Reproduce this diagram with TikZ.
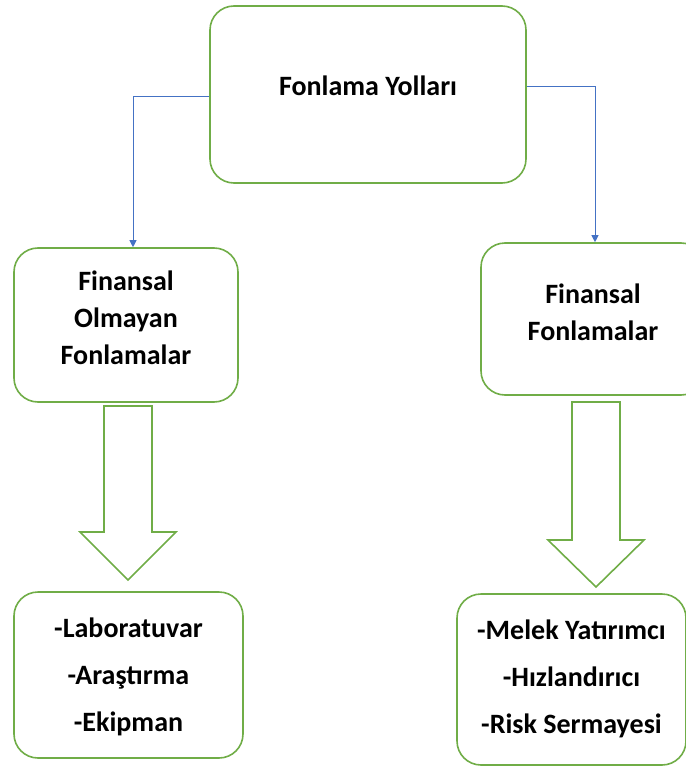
\documentclass[tikz,border=0pt]{standalone}
\usepackage{fontspec}
\setmainfont{Carlito}
\usetikzlibrary{arrows.meta}
\definecolor{yesil}{RGB}{112,173,71}
\definecolor{mavi}{RGB}{68,114,196}
\tikzset{
  kutu/.style={draw=yesil, line width=1.6pt, rounded corners=24pt, fill=white},
  yazi/.style={align=center, inner sep=0pt, font=\bfseries\fontsize{28}{37}\selectfont},
  listeyazi/.style={yazi, font=\bfseries\fontsize{28}{47}\selectfont},
  baglanti/.style={draw=mavi, line width=0.9pt, -{Triangle[width=7pt,length=7pt]}},
  kalinok/.style={draw=yesil, line width=1.6pt, line join=miter}
}
\begin{document}
\begin{tikzpicture}[x=1pt, y=-1pt]

  % Sayfa sınırları
  \useasboundingbox (0,0) rectangle (685,770);

  % Kutular
  \node[kutu, minimum width=316pt, minimum height=177pt] (yollar) at (368,94.5) {};
  \node[kutu, minimum width=224pt, minimum height=154pt] (olmayan) at (126,325) {};
  \node[kutu, minimum width=224pt, minimum height=152pt] (finansal) at (593,319) {};
  \node[kutu, minimum width=229pt, minimum height=166pt] (liste1) at (128.5,675) {};
  \node[kutu, minimum width=229pt, minimum height=171pt] (liste2) at (571.5,679.5) {};

  % Kutu yazıları
  \node[yazi] (yollaryazi) at ([yshift=8.5pt]yollar.center) {Fonlama Yolları};
  \node[yazi] (olmayanyazi) at ([yshift=7pt]olmayan.center) {Finansal\\Olmayan\\Fonlamalar};
  \node[yazi] (finansalyazi) at ([yshift=6.5pt]finansal.center) {Finansal\\Fonlamalar};
  \node[listeyazi] (liste1yazi) at ([yshift=-1.5pt]liste1.center) {-Laboratuvar\\-Araştırma\\-Ekipman};
  \node[listeyazi] (liste2yazi) at ([yshift=1pt]liste2.center) {-Melek Yatırımcı\\-Hızlandırıcı\\-Risk Sermayesi};

  % Mavi bağlantılar
  \draw[baglanti] ([yshift=-1.5pt]yollar.west) -| ([xshift=7pt]olmayan.north);
  \draw[baglanti] ([yshift=8.5pt]yollar.east) -| ([xshift=2pt]finansal.north);

  % Kalın oklar
  \coordinate (ok1) at (128,406);
  \coordinate (ok2) at (596,402);
  \draw[kalinok] (ok1) ++(-24,0) -- ++(0,126) -- ++(-24,0) -- ++(48,48)
    -- ++(48,-48) -- ++(-24,0) -- ++(0,-126) -- cycle;
  \draw[kalinok] (ok2) ++(-24,0) -- ++(0,138) -- ++(-24,0) -- ++(48,47)
    -- ++(48,-47) -- ++(-24,0) -- ++(0,-138) -- cycle;

\end{tikzpicture}
\end{document}
